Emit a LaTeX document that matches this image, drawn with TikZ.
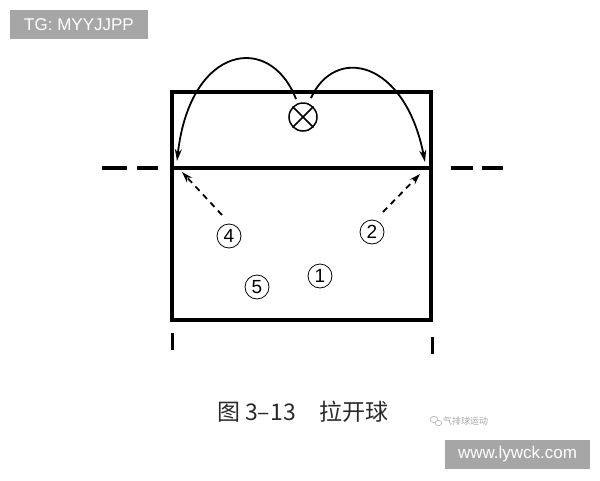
\documentclass[tikz,border=0pt]{standalone}
\usepackage{fontspec}
\setmainfont{Liberation Sans}
\newfontfamily\cjk{Noto Sans CJK SC}
\usetikzlibrary{arrows.meta}
\definecolor{tagbg}{HTML}{A6A6A6}
\definecolor{captxt}{HTML}{2A2A2A}
\begin{document}
\begin{tikzpicture}[x=1pt,y=-1pt,
  court/.style={line width=3.2pt},
  player/.style={circle,draw,line width=0.8pt,minimum size=24pt,inner sep=0pt,font=\fontsize{19}{19}\selectfont},
  arc/.style={line width=1.8pt,-{Stealth[length=12pt,width=7pt]}},
  pass/.style={line width=1.8pt,dash pattern=on 6pt off 5pt,-{Stealth[length=11pt,width=7pt]}},
  tag/.style={fill=tagbg,text=white,inner sep=0pt,font=\fontsize{17}{17}\selectfont}]
\useasboundingbox (0,0) rectangle (600,480);
% tags
\node[tag,minimum width=138pt,minimum height=29pt] (tg) at (79,24.5) {TG: MYYJJPP};
\node[tag,minimum width=145pt,minimum height=29pt] (www) at (517.5,454.5) {www.lywck.com};
% court
\draw[court] (172,92) rectangle (431,320);
\coordinate (nl) at (172,168);
\coordinate (nr) at (431,168);
\draw[court] (nl) -- (nr);
\draw[court] (102,168) -- (127,168) (137,168) -- (158,168);
\draw[court] (451,168) -- (473,168) (482,168) -- (503,168);
\draw[line width=3pt] (172,333) -- (172,350);
\draw[line width=3pt] (432,337) -- (432,354);
% server
\node[circle,draw,line width=1.5pt,minimum size=28pt,inner sep=0pt] (s) at (303,117) {};
\draw[line width=1.5pt] (s.45) -- (s.225) (s.135) -- (s.315);
\coordinate (la) at (296,99);
\coordinate (ra) at (311,98);
\coordinate (lt) at (177,161);
\coordinate (rt) at (425,162);
\draw[arc] (la) .. controls (270,32) and (190,45) .. (lt);
\draw[arc] (ra) .. controls (335,45) and (405,60) .. (rt);
% players
\node[player] (p4) at (229,236) {4};
\node[player] (p2) at (372,232) {2};
\node[player] (p5) at (257,287) {5};
\node[player] (p1) at (320,276) {1};
\coordinate (t4) at (182,172);
\coordinate (t2) at (420,174);
\draw[pass] (222,215) -- (t4);
\draw[pass] (383,212) -- (t2);
% caption
\node[anchor=west,text=captxt,inner sep=0pt,font=\cjk\fontsize{23}{23}\selectfont] (cap) at (217,412) {图\kern5pt 3–13\kern24pt 拉开球};
\node[anchor=west,text=gray!70,inner sep=0pt,font=\cjk\fontsize{9}{9}\selectfont] (wm) at (443,421) {气排球运动};
\draw[gray!60,line width=0.6pt] (434,419.5) ellipse (4pt and 3.2pt);
\draw[gray!60,line width=0.6pt,fill=white] (438.5,423) ellipse (3.4pt and 2.7pt);
\end{tikzpicture}
\end{document}
